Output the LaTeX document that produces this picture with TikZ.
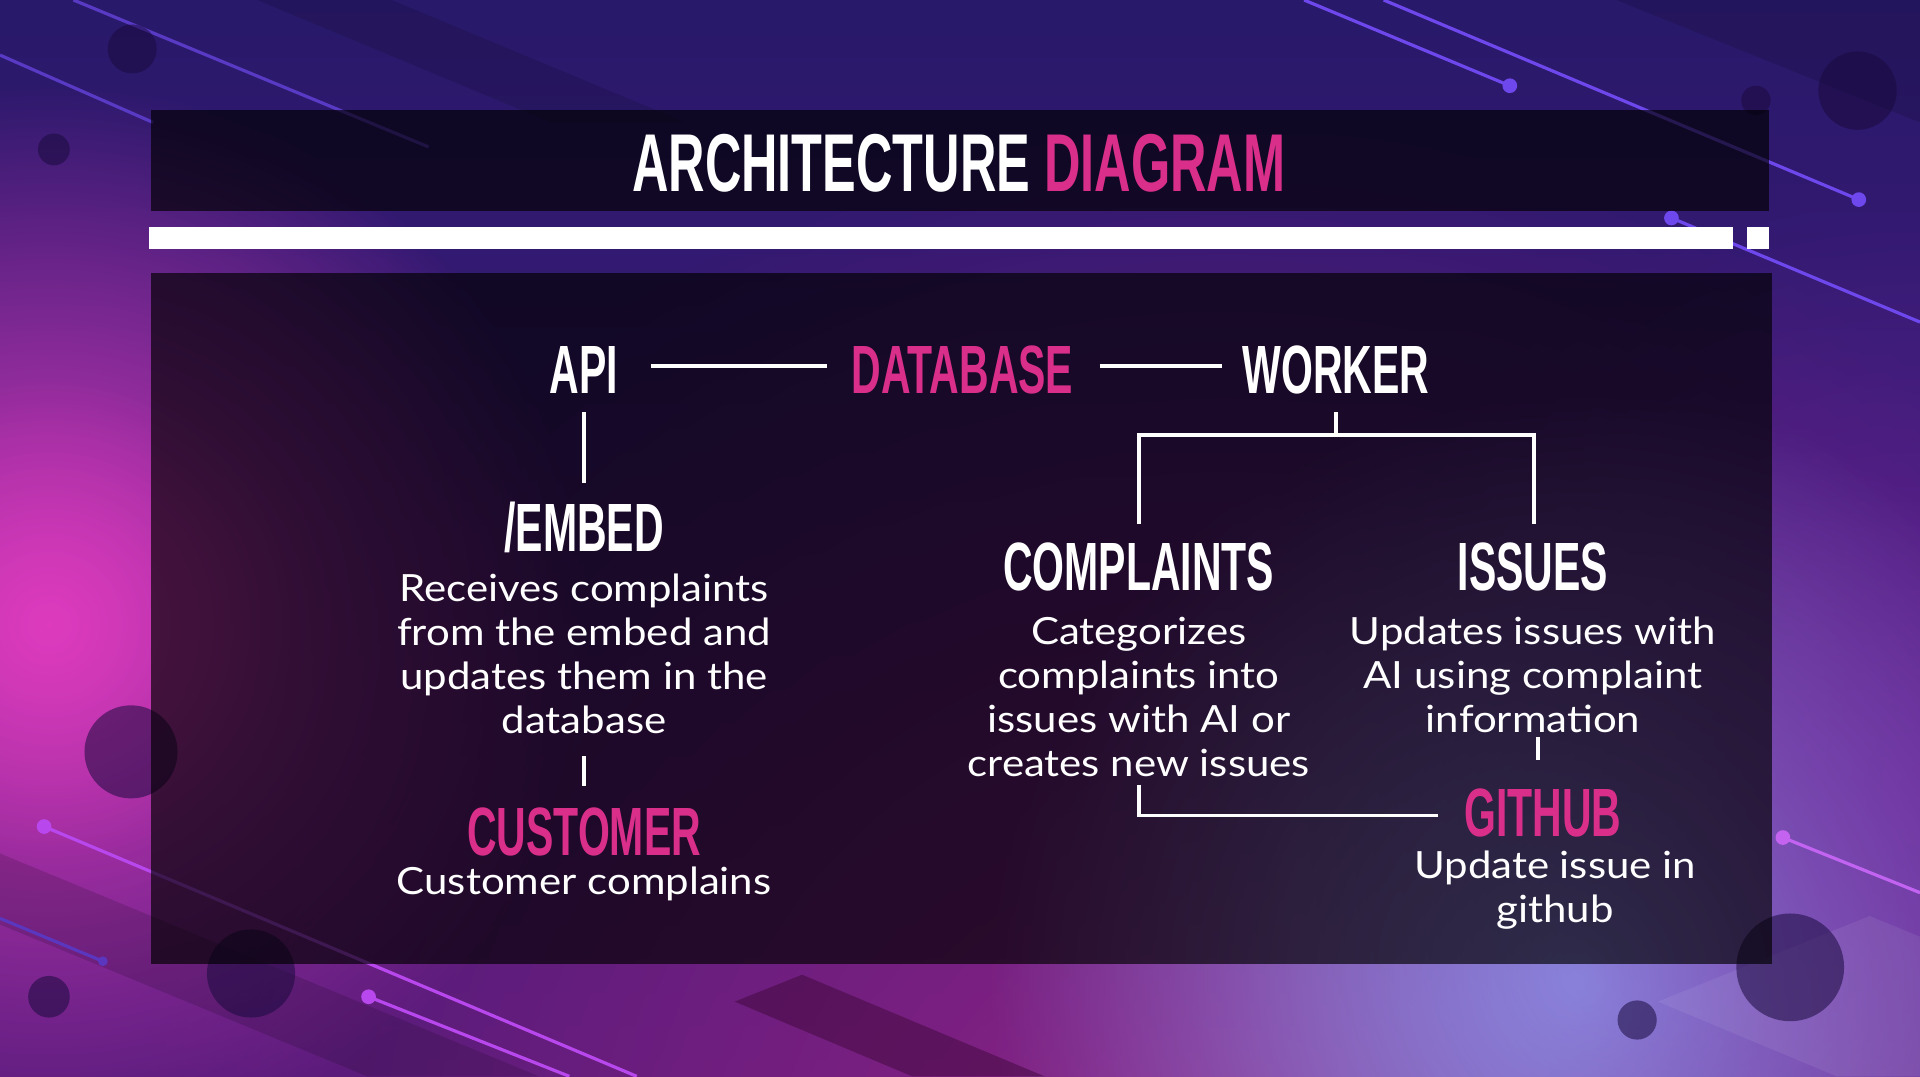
\documentclass[tikz,border=0pt]{standalone}
\usepackage{fontspec}
\usetikzlibrary{fadings,calc}
\newfontfamily\headfont[FakeStretch=0.6]{Liberation Sans}
\newfontfamily\titlefont[FakeStretch=0.615]{Liberation Sans}
\newfontfamily\bodyfont[FakeStretch=1.12]{Lato}
\definecolor{pinkc}{HTML}{D92F8A}
\definecolor{bgtop}{HTML}{28196A}
\definecolor{bgmid}{HTML}{3E1A78}
\definecolor{bgbot}{HTML}{4E1A78}
\definecolor{glowpink}{HTML}{E23CC0}
\definecolor{glowblue}{HTML}{90A2F2}
\definecolor{glowmag}{HTML}{9A2488}
\definecolor{glowvio}{HTML}{7A2CA8}
\definecolor{maroon}{HTML}{40083A}
\definecolor{linebl}{HTML}{6E48EC}
\definecolor{linepk}{HTML}{B848EE}
\definecolor{dotc}{HTML}{1A0A3E}
\tikzfading[name=glowfade, inner color=transparent!0, outer color=transparent!100]
\begin{document}
\begin{tikzpicture}[x=0.5pt,y=-0.5pt,
  head/.style={font=\headfont\bfseries\fontsize{27.9}{30}\selectfont, text=white, inner sep=0pt, text height=20pt, text depth=0pt},
  pinkhead/.style={head, text=pinkc},
  body/.style={font=\bodyfont\fontsize{15.3}{18}\selectfont, text=white, align=center, inner sep=0pt},
  conn/.style={draw=white, line width=1.5pt},
  deco/.style={line width=1.3pt},
  blob/.style={fill=dotc, fill opacity=0.55},
  panel/.style={fill=black, fill opacity=0.66}]
\useasboundingbox (0,0) rectangle (1568,879);
\clip (0,0) rectangle (1568,879);
% background
\shade[top color=bgtop, bottom color=bgbot, middle color=bgmid] (0,0) rectangle (1568,879);
\fill[glowmag, path fading=glowfade, fill opacity=0.85] (1000,1000) circle (900);
\fill[glowpink, path fading=glowfade, fill opacity=0.95] (40,510) circle (440);
\fill[glowpink, path fading=glowfade, fill opacity=0.5] (40,510) circle (200);
\fill[glowblue, path fading=glowfade, fill opacity=0.9] (1289,800) circle (480);
\fill[glowvio, path fading=glowfade, fill opacity=0.5] (1568,650) circle (500);
% subtle bands
\fill[black, fill opacity=0.12] (210,0) -- (320,0) -- (560,100) -- (450,100) -- cycle;
\fill[black, fill opacity=0.12] (1320,0) -- (1568,0) -- (1568,100) -- cycle;
\fill[black, fill opacity=0.14] (0,697) -- (440,879) -- (300,879) -- (0,755) -- cycle;
\fill[maroon, fill opacity=0.5] (600,818) -- (655,796) -- (853,879) -- (745,879) -- cycle;
\fill[white, fill opacity=0.07] (1354,818) -- (1527,748) -- (1568,765) -- (1568,879) -- (1500,879) -- cycle;
% decorative lines
\draw[deco, draw=linebl!70!bgtop] (60,0) -- (350,120);
\draw[deco, draw=linebl!70!bgtop] (0,45) -- (125,100);
\draw[deco, draw=linebl] (1065,0) -- (1233,70);
\fill[linebl] (1233,70) circle (6);
\draw[deco, draw=linebl] (1130,0) -- (1518,163);
\fill[linebl] (1518,163) circle (6);
\draw[deco, draw=linebl] (1365,178) -- (1568,263);
\fill[linebl] (1365,178) circle (6);
\draw[deco, draw=linepk] (36,675) -- (520,879);
\fill[linepk] (36,675) circle (6);
\draw[deco, draw=linepk] (301,814) -- (465,879);
\fill[linepk] (301,814) circle (6);
\draw[deco, draw=linebl!60!bgmid] (0,750) -- (84,785);
\fill[linebl!60!bgmid] (84,785) circle (4);
\draw[deco, draw=linepk!85!white] (1456,684) -- (1568,729);
\fill[linepk!85!white] (1456,684) circle (6);
% blobs
\fill[blob] (108,40) circle (20);
\fill[blob] (44,122) circle (13);
\fill[blob] (1517,74) circle (32);
\fill[blob] (1434,82) circle (12);
\fill[blob] (107,614) circle (38);
\fill[blob] (205,795) circle (36);
\fill[blob] (40,814) circle (17);
\fill[blob] (1337,833) circle (16);
\fill[blob] (1462,790) circle (44);
% title area
\fill[panel] (123,90) rectangle (1445,172);
\fill[white] (122,185) rectangle (1415,203);
\fill[white] (1427,185) rectangle (1445,203);
\fill[panel] (123,223) rectangle (1447,787);
\node[head, font=\titlefont\bfseries\fontsize{33.5}{36}\selectfont, text height=24pt] (title) at (783,132) {ARCHITECTURE \textcolor{pinkc}{DIAGRAM}};
% nodes
\node[head] (api) at (477,301) {API};
\node[pinkhead] (db) at (786,301) {DATABASE};
\node[head] (worker) at (1091,301) {WORKER};
\node[head] (embed) at (477,430) {/EMBED};
\node[body] (embedtxt) at (477,534) {Receives complaints\\from the embed and\\updates them in the\\database};
\node[pinkhead] (customer) at (477,679) {CUSTOMER};
\node[body] (custtxt) at (477,722) {Customer complains};
\node[head] (complaints) at (930,462) {COMPLAINTS};
\node[body] (comptxt) at (930,569) {Categorizes\\complaints into\\issues with AI or\\creates new issues};
\node[head] (issues) at (1252,462) {ISSUES};
\node[body] (isstxt) at (1252,551) {Updates issues with\\AI using complaint\\information};
\node[pinkhead] (github) at (1260,663) {GITHUB};
\node[body] (ghtxt) at (1270,727) {Update issue in\\github};
% connectors
\draw[conn] ($(api.east)+(26,-2)$) -- ($(db.west)+(-20,-2)$);
\draw[conn] ($(db.east)+(21,-2)$) -- ($(worker.west)+(-16,-2)$);
\draw[conn] ($(api.south)+(0,15)$) -- ($(embed.north)+(0,-15)$);
\coordinate (wj) at ($(worker.south)+(0,34)$);
\draw[conn] ($(worker.south)+(0,15)$) -- (wj);
\draw[conn] ($(complaints.north)+(0,-14)$) |- (wj) -| ($(issues.north)+(1,-14)$);
\draw[conn] ($(embedtxt.south)+(0,18)$) -- ($(customer.north)+(0,-17)$);
\draw[conn] ($(isstxt.south)+(4,3)$) -- ($(github.north)+(-4,-22)$);
\draw[conn] ($(comptxt.south)+(0,6)$) |- ($(github.west)+(-21,3)$);
\end{tikzpicture}
\end{document}
